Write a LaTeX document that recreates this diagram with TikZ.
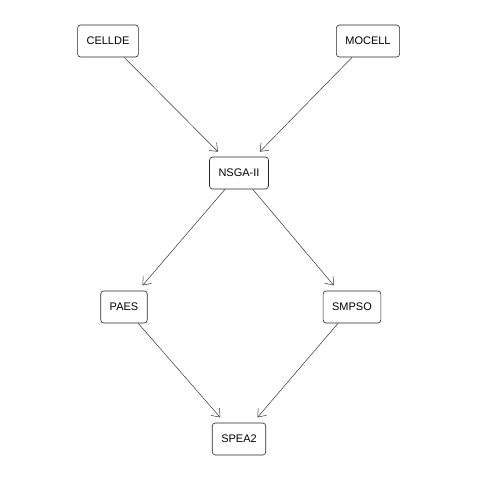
\documentclass[tikz,border=0pt]{standalone}
\usepackage{fontspec}
\setmainfont{Liberation Sans}
\usetikzlibrary{arrows.meta}

\tikzset{
  algo/.style={draw=black!85, line width=0.6pt, rounded corners=3pt, inner xsep=9pt,
    minimum height=32pt, font=\fontsize{11}{13}\selectfont},
  dep/.style={draw=black!80, line width=0.5pt, -{Straight Barb[length=7pt,width=11pt]}, shorten >=7pt}
}

\begin{document}
\begin{tikzpicture}[x=1pt,y=-1pt]
\useasboundingbox (0,0) rectangle (480,480);

\node[algo] (cellde) at (108,41) {CELLDE};
\node[algo] (mocell) at (368,41) {MOCELL};
\node[algo] (nsga) at (239,173) {NSGA-II};
\node[algo] (paes) at (124,307) {PAES};
\node[algo] (smpso) at (352,307) {SMPSO};
\node[algo] (spea) at (239,439) {SPEA2};

\draw[dep] (cellde) -- (nsga);
\draw[dep] (mocell) -- (nsga);
\draw[dep] (nsga) -- (paes);
\draw[dep] (nsga) -- (smpso);
\draw[dep] (paes) -- (spea);
\draw[dep] (smpso) -- (spea);
\end{tikzpicture}
\end{document}
